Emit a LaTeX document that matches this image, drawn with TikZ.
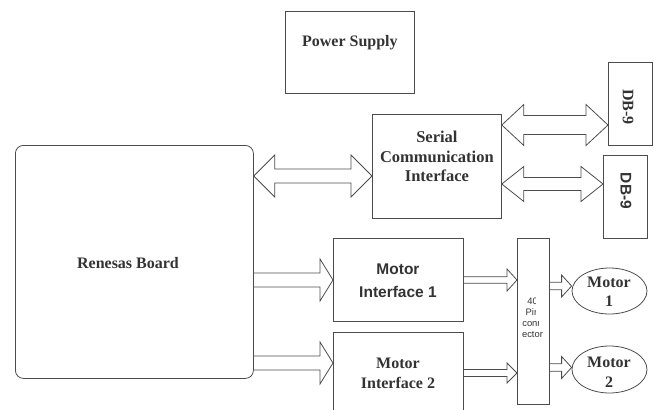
\documentclass[tikz,border=0pt]{standalone}
\usepackage{fontspec}
\setmainfont{Liberation Serif}
\setsansfont{Liberation Sans}
\usetikzlibrary{calc}
\usetikzlibrary{shapes.geometric}

% wide arrow: from, to, y, shaft half width, head half width, head length
\newcommand{\fatarrow}[6]{%
  \coordinate (fa-y) at (0,#3);
  \coordinate (fa-s) at (#1.east |- fa-y);
  \coordinate (fa-e) at (#2.west |- fa-y);
  \draw[fatline] ($(fa-s)+(0,-#4)$) -- ($(fa-e)+(-#6,-#4)$) -- ($(fa-e)+(-#6,-#5)$)
    -- (fa-e) -- ($(fa-e)+(-#6,#5)$) -- ($(fa-e)+(-#6,#4)$) -- ($(fa-s)+(0,#4)$);
}
\newcommand{\fatdblarrow}[6]{%
  \coordinate (fa-y) at (0,#3);
  \coordinate (fa-s) at (#1.east |- fa-y);
  \coordinate (fa-e) at (#2.west |- fa-y);
  \draw[fatline] (fa-s) -- ($(fa-s)+(#6,-#5)$) -- ($(fa-s)+(#6,-#4)$) -- ($(fa-e)+(-#6,-#4)$)
    -- ($(fa-e)+(-#6,-#5)$) -- (fa-e) -- ($(fa-e)+(-#6,#5)$) -- ($(fa-e)+(-#6,#4)$)
    -- ($(fa-s)+(#6,#4)$) -- ($(fa-s)+(#6,#5)$) -- cycle;
}

\begin{document}
\begin{tikzpicture}[x=1pt, y=-1pt,
  block/.style={draw=black!70, line width=0.8pt, inner sep=0pt, anchor=north west},
  fatline/.style={draw=black!70, line width=0.8pt, line join=miter},
  sb/.style={font=\bfseries\fontsize{16}{19.5}\selectfont, text=black!80, align=center},
  ssb/.style={font=\sffamily\bfseries\fontsize{15.5}{23}\selectfont, text=black!80, align=center},
  conntext/.style={font=\sffamily\fontsize{9.4}{11}\selectfont, text=black!80, align=center}]
\useasboundingbox (0,0) rectangle (654,410);

\node[block, rounded corners=8pt, minimum width=238pt, minimum height=233pt] (renesas) at (15,145) {};
\node[sb] (renesastext) at (128,263) {Renesas Board};

\node[block, minimum width=129pt, minimum height=82pt] (power) at (285,11) {};
\node[sb] (powertext) at ([yshift=-32pt]power.north) {Power Supply};

\node[block, minimum width=129pt, minimum height=104pt] (sci) at (372,114) {};
\node[sb, font=\bfseries\fontsize{16.5}{19.5}\selectfont] (scitext) at ([yshift=10pt]sci.center) {Serial\\Communication\\Interface};

\node[block, minimum width=44pt, minimum height=83pt] (dba) at (608,62) {};
\node[sb, rotate=-90] (dbatext) at (628,107) {DB-9};
\node[block, minimum width=44pt, minimum height=83pt] (dbb) at (603,155) {};
\node[ssb, rotate=-90] (dbbtext) at (626,191) {DB-9};

\node[block, minimum width=130pt, minimum height=83pt] (mia) at (333,238) {};
\node[ssb] (miatext) at (398,281) {Motor\\Interface 1};
\node[block, minimum width=130pt, minimum height=83pt] (mib) at (333,332) {};
\node[sb, font=\bfseries\fontsize{16}{20}\selectfont] (mibtext) at (398,373.5) {Motor\\Interface 2};

\node[block, minimum width=32pt, minimum height=166pt] (conn) at (517,238) {};
\begin{scope}
  \clip (518,294) -- (535,294) -- (535,317) -- (538,317) -- (538,328) -- (548,328) -- (548,340) -- (518,340) -- cycle;
  \node[conntext] (conntext) at (532.5,317.5) {40\\Pin\\conn\\ector};
\end{scope}

\node[draw=black!70, line width=0.8pt, ellipse, inner sep=0pt, minimum width=75pt, minimum height=46pt] (motora) at (609.5,291) {};
\node[sb, font=\bfseries\fontsize{16}{19}\selectfont] (motoratext) at (609,292) {Motor\\1};
\node[draw=black!70, line width=0.8pt, ellipse, inner sep=0pt, minimum width=75pt, minimum height=47pt] (motorb) at (609.5,369.5) {};
\node[sb, font=\bfseries\fontsize{16}{20}\selectfont] (motorbtext) at (609,372) {Motor\\2};

\fatdblarrow{renesas}{sci}{176}{7}{21}{21}
\fatdblarrow{sci}{dba}{125}{9.5}{20.5}{22}
\fatdblarrow{sci}{dbb}{184}{6.5}{17.5}{22}
\fatarrow{renesas}{mia}{280}{7}{21}{13}
\fatarrow{renesas}{mib}{363}{7}{21}{13}
\fatarrow{mia}{conn}{280}{3.3}{11}{10}
\fatarrow{mib}{conn}{373}{3.5}{10}{10}
\fatarrow{conn}{motora}{286}{3.8}{11}{10}
\fatarrow{conn}{motorb}{367.5}{3.8}{11}{10}
\end{tikzpicture}
\end{document}
